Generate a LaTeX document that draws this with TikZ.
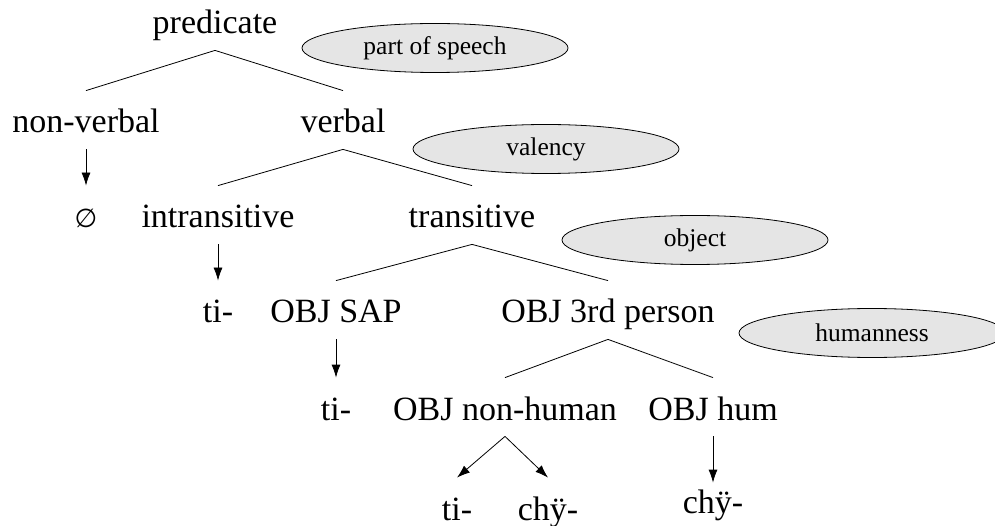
\documentclass[tikz,border=0pt]{standalone}
\usepackage{fontspec}
\setmainfont{Liberation Serif}
\newfontfamily\symbfont{DejaVu Sans}
\usetikzlibrary{shapes.geometric,arrows.meta}

\begin{document}
\begin{tikzpicture}[x=1pt,y=-1pt,line width=0.8pt,
    font=\fontsize{34}{40}\selectfont,
    cat/.style={anchor=base,inner xsep=0pt,inner ysep=6pt,
      text height=36pt,text depth=10pt},
    feature/.style={ellipse,draw,fill=black!10,inner sep=0pt,
      minimum width=266pt,minimum height=49pt,
      font=\fontsize{25.5}{28}\selectfont},
    deriv/.style={-{Latex[length=13pt,width=9pt]}}]
    \path[use as bounding box] (0,0) rectangle (995,526);
    % categories, row by row
    \node[cat] (pred) at (215,34) {predicate};
    \node[cat] (nonverb) at (86,133) {non-verbal};
    \node[cat] (verb) at (343,133) {verbal};
    \node[cat] (zero) at (86,228) {\symbfont\fontsize{26}{30}\selectfont ∅};
    \node[cat] (intr) at (218,228) {intransitive};
    \node[cat] (trans) at (472,228) {transitive};
    \node[cat] (tiIntr) at (218,323) {ti-};
    \node[cat] (objSap) at (336,323) {OBJ SAP};
    \node[cat] (objThird) at (608,323) {OBJ 3rd person};
    \node[cat] (tiSap) at (336,420) {ti-};
    \node[cat] (objNonhum) at (505,420) {OBJ non-human};
    \node[cat] (objHum) at (713,420) {OBJ hum};
    \node[cat] (tiNh) at (457,520) {ti-};
    \node[cat] (chyNh) at (548,520) {chÿ-};
    \node[cat,text height=24pt] (chyHum) at (713,513) {chÿ-};
    % features
    \node[feature] (posEll) at (435,48) {part of speech};
    \node[feature] (valEll) at (546,149) {valency};
    \node[feature] (objEll) at (695,240) {object};
    \node[feature] (humEll) at (872,333) {humanness};
    % branches
    \draw (pred.south) -- (nonverb.north);
    \draw (pred.south) -- (verb.north);
    \draw (verb.south) -- (intr.north);
    \draw (verb.south) -- (trans.north);
    \draw (trans.south) -- (objSap.north);
    \draw (trans.south) -- (objThird.north);
    \draw (objThird.south) -- (objNonhum.north);
    \draw (objThird.south) -- (objHum.north);
    % markers
    \draw[deriv] (nonverb.south) -- (zero.north);
    \draw[deriv] (intr.south) -- (tiIntr.north);
    \draw[deriv] (objSap.south) -- (tiSap.north);
    \draw[deriv] (objNonhum.south) -- (tiNh.north);
    \draw[deriv] (objNonhum.south) -- (chyNh.north);
    \draw[deriv] (objHum.south) -- (chyHum.north);
  \end{tikzpicture}
\end{document}
